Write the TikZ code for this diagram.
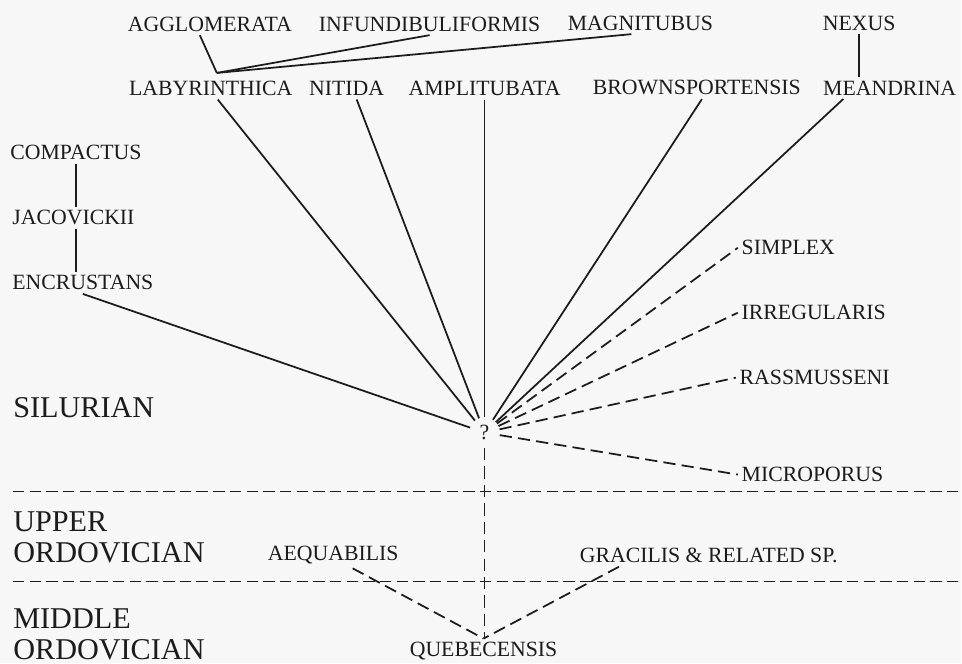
\documentclass[tikz,border=0pt]{standalone}
\usepackage{tikz}
\usepackage{fontspec}
\setmainfont{Liberation Serif}
\definecolor{ink}{HTML}{1C1C1C}
\definecolor{paper}{HTML}{F7F7F7}
\tikzset{
  taxon/.style={
    inner sep=2pt, text=ink, font=\fontsize{12.4}{13}\selectfont
  },
  era/.style={
    inner sep=0pt, text=ink, align=left, font=\fontsize{17.2}{17.6}\selectfont
  },
  query/.style={
    circle, minimum size=0.6cm, inner sep=0pt, text=ink,
    font=\fontsize{12.4}{13}\selectfont
  },
  tlink/.style={draw=ink, line width=1pt},
  tlink-doubt/.style={draw=ink, line width=1pt, dash pattern=on 7pt off 3.5pt},
  era-line/.style={draw=ink, line width=1pt, dash pattern=on 6.5pt off 3pt}
}

\begin{document}
\begin{tikzpicture}

  % ---- Paper ---------------------------------------------------------------
  \fill[paper] (0,0) rectangle (19.24,-13.28);

  % ---- Top rows ------------------------------------------------------------
  \node[taxon] (agglom) at (4.20, -0.48) {AGGLOMERATA};
  \node[taxon] (infund) at (8.60, -0.48) {INFUNDIBULIFORMIS};
  \node[taxon] (magni)  at (12.82,-0.46) {MAGNITUBUS};
  \node[taxon] (nexus)  at (17.20,-0.46) {NEXUS};
  \node[taxon] (labyr)  at (4.22, -1.77) {LABYRINTHICA};
  \node[taxon] (nitida) at (6.94, -1.77) {NITIDA};
  \node[taxon] (amplit) at (9.70, -1.77) {AMPLITUBATA};
  \node[taxon] (browns) at (13.95,-1.76) {BROWNSPORTENSIS};
  \node[taxon] (meandr) at (17.81,-1.76) {MEANDRINA};

  % ---- Left column ---------------------------------------------------------
  \node[taxon, anchor=west] (compact) at (0.13,-3.06) {COMPACTUS};
  \node[taxon, anchor=west] (jacov)   at (0.17,-4.36) {JACOVICKII};
  \node[taxon, anchor=west] (encrust) at (0.17,-5.66) {ENCRUSTANS};

  % ---- Right column --------------------------------------------------------
  \node[taxon, anchor=west] (simplex) at (14.77,-4.96) {SIMPLEX};
  \node[taxon, anchor=west] (irreg)   at (14.77,-6.26) {IRREGULARIS};
  \node[taxon, anchor=west] (rassm)   at (14.73,-7.56) {RASSMUSSENI};
  \node[taxon, anchor=west] (microp)  at (14.77,-9.50) {MICROPORUS};

  % ---- Ordovician ----------------------------------------------------------
  \node[taxon] (aequab) at (6.67,-11.12) {AEQUABILIS};
  \node[taxon, anchor=west] (gracil) at (11.53,-11.12) {GRACILIS \& RELATED SP.};
  \node[taxon] (quebec) at (9.68,-13.04) {QUEBECENSIS};
  \node[query] (q) at (9.70,-8.66) {?};
  \coordinate (fork) at (4.34,-1.46);

  % ---- Eras ----------------------------------------------------------------
  \node[era, anchor=west] (silurian) at (0.26, -8.16) {SILURIAN};
  \node[era, anchor=west] (upper)    at (0.26,-10.75) {UPPER\\ORDOVICIAN};
  \node[era, anchor=west] (middle)   at (0.26,-12.70) {MIDDLE\\ORDOVICIAN};
  \draw[era-line] (0.26,-9.84) -- (19.24,-9.84);
  \draw[era-line] (0.26,-11.64) -- (19.24,-11.64);

  % ---- Links ---------------------------------------------------------------
  \draw[tlink] ([xshift=-0.2cm]agglom.south) -- (fork);
  \draw[tlink] (infund.south) -- (fork);
  \draw[tlink] ([xshift=-0.18cm]magni.south) -- (fork);
  \draw[tlink] (nexus.south) -- (nexus.south |- meandr.north);
  \draw[tlink] (compact.south) -- (compact.south |- jacov.north);
  \draw[tlink] (compact.south |- jacov.south) -- (compact.south |- encrust.north);

  % ---- Rays to the query ---------------------------------------------------
  \draw[tlink] ([xshift=0.14cm]labyr.south) -- (q);
  \draw[tlink] ([xshift=0.2cm]nitida.south) -- (q);
  \draw[tlink] (amplit.south) -- (q);
  \draw[tlink] ([xshift=0.1cm]browns.south) -- (q);
  \draw[tlink] ([xshift=0.48cm]meandr.south west) -- (q);
  \draw[tlink] (encrust.south) -- (q);
  \draw[tlink-doubt] (q) -- (simplex.west);
  \draw[tlink-doubt] (q) -- (irreg.west);
  \draw[tlink-doubt] (q) -- (rassm.west);
  \draw[tlink-doubt] (q) -- (microp.west);
  \draw[tlink-doubt] (q) -- (q |- quebec.north);
  \draw[tlink-doubt] ([xshift=0.39cm]aequab.south) -- (quebec.north);
  \draw[tlink-doubt] ([xshift=0.86cm]gracil.south west) -- (quebec.north);

\end{tikzpicture}
\end{document}
